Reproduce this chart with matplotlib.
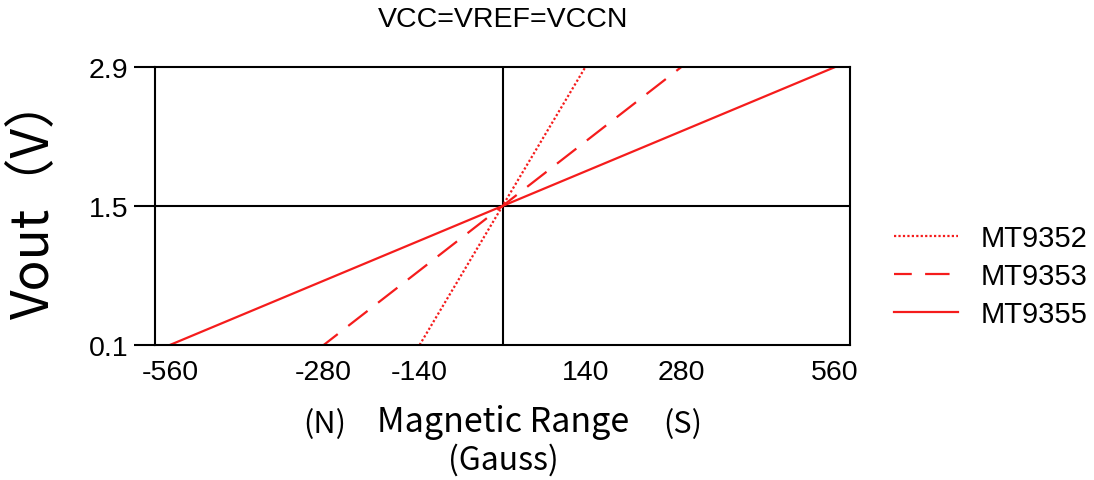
import numpy as np
import matplotlib
matplotlib.use("Agg")
import matplotlib.pyplot as plt

# data
models = ["MT9352", "MT9353", "MT9355"]
ranges = [140, 280, 560]          # gauss at full scale
vout_min, vout_mid, vout_max = 0.1, 1.5, 2.9
styles = [(0, (1, 1)), (3, (11, 6)), "-"]
xticks = [-560, -280, -140, 140, 280, 560]
yticks = [0.1, 1.5, 2.9]

# the x axis of the original is not linear: piecewise mapping
xp = [-600, -560, -280, -140, 0, 140, 280, 560, 600]
fp = [-355, -333, -179, -83, 0, 83, 179, 333, 355]

def fwd(x):
    return np.interp(x, xp, fp)

def inv(y):
    return np.interp(y, fp, xp)

plt.rcParams['font.family'] = ['Liberation Sans', 'DejaVu Sans']

fig = plt.figure(figsize=(10.94, 4.81), dpi=100)
ax = fig.add_axes([155/1094, 1-346/481, (850-155)/1094, (346-68)/481])
ax.set_xscale('function', functions=(fwd, inv))

red = '#f51c1c'
for name, r, ls in zip(models, ranges, styles):
    ax.plot([-r, r], [vout_min, vout_max], color=red, lw=1.6, ls=ls, label=name)

ax.axhline(vout_mid, color='black', lw=1.5, zorder=1)
ax.axvline(0, color='black', lw=1.5, zorder=1)

ax.set_xlim(-587, 587)
ax.set_ylim(vout_min, vout_max)
ax.set_xticks(xticks)
ax.set_xticklabels([str(t) for t in xticks], fontsize=20.5)
ax.set_yticks(yticks)
ax.set_yticklabels([str(t) for t in yticks], fontsize=20.5)
ax.tick_params(axis='x', length=0, pad=10)
ax.tick_params(axis='y', length=15, width=1.5, pad=4)
for s in ax.spines.values():
    s.set_linewidth(1.5)

fig.text(503/1094, 1-20/481, "VCC=VREF=VCCN", ha='center', va='center', fontsize=20.5)

cjk = ['Noto Sans CJK SC', 'DejaVu Sans']
fig.text(34/1094, 1-197/481, "Vout（V）", rotation=90, ha='center', va='center',
         fontsize=37, family=cjk)
fig.text(503/1094, 1-423/481, "Magnetic Range", ha='center', va='center',
         fontsize=24.5, family=cjk)
fig.text(503/1094, 1-460/481, "(Gauss)", ha='center', va='center',
         fontsize=23, family=cjk)
fig.text(325/1094, 1-425/481, "(N)", ha='center', va='center', fontsize=22, family=cjk)
fig.text(683/1094, 1-425/481, "(S)", ha='center', va='center', fontsize=22, family=cjk)

ax.legend(loc='center left', bbox_to_anchor=(868/1094, 1-277/481),
          bbox_transform=fig.transFigure, frameon=False, fontsize=21,
          handlelength=2.2, handletextpad=0.75, labelspacing=0.35)

fig.savefig("out.png", dpi=100)
